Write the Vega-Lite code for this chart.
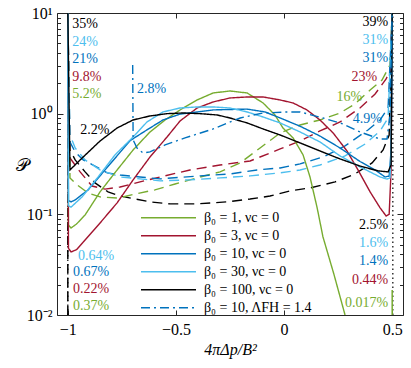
{
 "$schema": "https://vega.github.io/schema/vega-lite/v6.json",
 "width": 346, "height": 302,
 "autosize": "none",
 "padding": {"left": 57, "top": 13, "right": 8, "bottom": 53},
 "config": {
  "view": {"stroke": "#262626", "strokeWidth": 1},
  "font": "Liberation Serif",
  "axis": {"domain": false, "grid": false, "tickColor": "#262626", "labelColor": "#000", "titleColor": "#000", "labelFont": "Liberation Serif", "titleFont": "Liberation Serif", "titleFontWeight": "normal", "labelFlush": false}
 },
 "datasets": {
  "solid": [
   {"s":"b1","x":-1.0,"y":10},{"s":"b1","x":-0.997,"y":0.078},{"s":"b1","x":-0.985,"y":0.0732},{"s":"b1","x":-0.96,"y":0.08},{"s":"b1","x":-0.92,"y":0.0986},{"s":"b1","x":-0.851,"y":0.167},{"s":"b1","x":-0.772,"y":0.276},{"s":"b1","x":-0.698,"y":0.436},{"s":"b1","x":-0.62,"y":0.658},{"s":"b1","x":-0.55,"y":0.866},{"s":"b1","x":-0.481,"y":1.088},{"s":"b1","x":-0.402,"y":1.368},{"s":"b1","x":-0.328,"y":1.606},{"s":"b1","x":-0.25,"y":1.68},{"s":"b1","x":-0.171,"y":1.606},{"s":"b1","x":-0.097,"y":1.277},{"s":"b1","x":-0.042,"y":0.971},{"s":"b1","x":-0.005,"y":0.72},{"s":"b1","x":0.042,"y":0.574},{"s":"b1","x":0.088,"y":0.389},{"s":"b1","x":0.12,"y":0.235},{"s":"b1","x":0.153,"y":0.116},{"s":"b1","x":0.18,"y":0.0596},{"s":"b1","x":0.231,"y":0.0252},{"s":"b1","x":0.282,"y":0.01},
   {"s":"b3","x":-1.0,"y":10},{"s":"b3","x":-0.997,"y":0.046},{"s":"b3","x":-0.985,"y":0.0423},{"s":"b3","x":-0.96,"y":0.0445},{"s":"b3","x":-0.929,"y":0.053},{"s":"b3","x":-0.851,"y":0.082},{"s":"b3","x":-0.772,"y":0.13},{"s":"b3","x":-0.698,"y":0.22},{"s":"b3","x":-0.62,"y":0.371},{"s":"b3","x":-0.541,"y":0.587},{"s":"b3","x":-0.481,"y":0.846},{"s":"b3","x":-0.402,"y":1.139},{"s":"b3","x":-0.328,"y":1.307},{"s":"b3","x":-0.25,"y":1.432},{"s":"b3","x":-0.171,"y":1.465},{"s":"b3","x":-0.097,"y":1.465},{"s":"b3","x":-0.018,"y":1.368},{"s":"b3","x":0.042,"y":1.277},{"s":"b3","x":0.106,"y":1.088},{"s":"b3","x":0.166,"y":0.866},{"s":"b3","x":0.227,"y":0.643},{"s":"b3","x":0.291,"y":0.426},{"s":"b3","x":0.342,"y":0.276},{"s":"b3","x":0.398,"y":0.167},{"s":"b3","x":0.444,"y":0.116},{"s":"b3","x":0.472,"y":0.0963},{"s":"b3","x":0.486,"y":0.1},{"s":"b3","x":0.495,"y":0.276},{"s":"b3","x":0.5,"y":10},
   {"s":"b10","x":-1.0,"y":10},{"s":"b10","x":-0.997,"y":0.137},{"s":"b10","x":-0.985,"y":0.133},{"s":"b10","x":-0.966,"y":0.139},{"s":"b10","x":-0.906,"y":0.175},{"s":"b10","x":-0.828,"y":0.276},{"s":"b10","x":-0.749,"y":0.436},{"s":"b10","x":-0.712,"y":0.54},{"s":"b10","x":-0.634,"y":0.69},{"s":"b10","x":-0.56,"y":0.866},{"s":"b10","x":-0.481,"y":0.99},{"s":"b10","x":-0.328,"y":1.09},{"s":"b10","x":-0.171,"y":1.11},{"s":"b10","x":-0.088,"y":1.04},{"s":"b10","x":-0.018,"y":0.906},{"s":"b10","x":0.074,"y":0.75},{"s":"b10","x":0.166,"y":0.6},{"s":"b10","x":0.259,"y":0.456},{"s":"b10","x":0.351,"y":0.335},{"s":"b10","x":0.421,"y":0.276},{"s":"b10","x":0.467,"y":0.235},{"s":"b10","x":0.486,"y":0.24},{"s":"b10","x":0.495,"y":0.436},{"s":"b10","x":0.5,"y":10},
   {"s":"b30","x":-1.0,"y":10},{"s":"b30","x":-0.997,"y":0.122},{"s":"b30","x":-0.985,"y":0.118},{"s":"b30","x":-0.934,"y":0.149},{"s":"b30","x":-0.86,"y":0.235},{"s":"b30","x":-0.782,"y":0.389},{"s":"b30","x":-0.698,"y":0.587},{"s":"b30","x":-0.634,"y":0.827},{"s":"b30","x":-0.56,"y":1.04},{"s":"b30","x":-0.481,"y":1.139},{"s":"b30","x":-0.402,"y":1.166},{"s":"b30","x":-0.328,"y":1.166},{"s":"b30","x":-0.25,"y":1.139},{"s":"b30","x":-0.171,"y":1.04},{"s":"b30","x":-0.097,"y":0.927},{"s":"b30","x":-0.018,"y":0.809},{"s":"b30","x":0.074,"y":0.658},{"s":"b30","x":0.166,"y":0.524},{"s":"b30","x":0.259,"y":0.38},{"s":"b30","x":0.351,"y":0.296},{"s":"b30","x":0.444,"y":0.235},{"s":"b30","x":0.476,"y":0.224},{"s":"b30","x":0.49,"y":0.23},{"s":"b30","x":0.495,"y":0.436},{"s":"b30","x":0.5,"y":10},
   {"s":"b100","x":-1.0,"y":10},{"s":"b100","x":-0.99,"y":0.276},{"s":"b100","x":-0.929,"y":0.371},{"s":"b100","x":-0.851,"y":0.535},{"s":"b100","x":-0.772,"y":0.721},{"s":"b100","x":-0.698,"y":0.866},{"s":"b100","x":-0.62,"y":0.949},{"s":"b100","x":-0.541,"y":1.0},{"s":"b100","x":-0.467,"y":1.016},{"s":"b100","x":-0.388,"y":1.0},{"s":"b100","x":-0.31,"y":0.971},{"s":"b100","x":-0.25,"y":0.906},{"s":"b100","x":-0.171,"y":0.809},{"s":"b100","x":-0.097,"y":0.705},{"s":"b100","x":-0.018,"y":0.614},{"s":"b100","x":0.074,"y":0.512},{"s":"b100","x":0.166,"y":0.426},{"s":"b100","x":0.259,"y":0.355},{"s":"b100","x":0.351,"y":0.302},{"s":"b100","x":0.435,"y":0.27},{"s":"b100","x":0.481,"y":0.264},{"s":"b100","x":0.495,"y":0.309},{"s":"b100","x":0.5,"y":10},
   {"s":"fh","x":-0.7,"y":3.05},{"s":"fh","x":-0.698,"y":0.548},{"s":"fh","x":-0.68,"y":0.456},{"s":"fh","x":-0.652,"y":0.407},{"s":"fh","x":-0.62,"y":0.417},{"s":"fh","x":-0.55,"y":0.489},{"s":"fh","x":-0.458,"y":0.574},{"s":"fh","x":-0.328,"y":0.705},{"s":"fh","x":-0.203,"y":0.906},{"s":"fh","x":-0.097,"y":1.016},{"s":"fh","x":0.014,"y":1.04},{"s":"fh","x":0.074,"y":1.04},{"s":"fh","x":0.18,"y":0.906},{"s":"fh","x":0.273,"y":0.79},{"s":"fh","x":0.351,"y":0.658},{"s":"fh","x":0.444,"y":0.56},{"s":"fh","x":0.476,"y":0.56},{"s":"fh","x":0.49,"y":0.971},{"s":"fh","x":0.5,"y":10}
  ],
  "dashed": [
   {"s":"b100","x":-1.0,"y":10},{"s":"b100","x":-0.99,"y":0.436},{"s":"b100","x":-0.966,"y":0.347},{"s":"b100","x":-0.92,"y":0.264},{"s":"b100","x":-0.874,"y":0.205},{"s":"b100","x":-0.814,"y":0.167},{"s":"b100","x":-0.758,"y":0.152},{"s":"b100","x":-0.689,"y":0.142},{"s":"b100","x":-0.62,"y":0.133},{"s":"b100","x":-0.527,"y":0.127},{"s":"b100","x":-0.402,"y":0.127},{"s":"b100","x":-0.264,"y":0.133},{"s":"b100","x":-0.157,"y":0.142},{"s":"b100","x":-0.065,"y":0.152},{"s":"b100","x":0.028,"y":0.171},{"s":"b100","x":0.12,"y":0.183},{"s":"b100","x":0.236,"y":0.21},{"s":"b100","x":0.328,"y":0.252},{"s":"b100","x":0.407,"y":0.324},{"s":"b100","x":0.458,"y":0.436},{"s":"b100","x":0.486,"y":0.614},{"s":"b100","x":0.5,"y":10},
   {"s":"b3","x":-1.0,"y":10},{"s":"b3","x":-0.99,"y":0.363},{"s":"b3","x":-0.943,"y":0.264},{"s":"b3","x":-0.888,"y":0.191},{"s":"b3","x":-0.828,"y":0.178},{"s":"b3","x":-0.758,"y":0.187},{"s":"b3","x":-0.666,"y":0.21},{"s":"b3","x":-0.573,"y":0.235},{"s":"b3","x":-0.435,"y":0.276},{"s":"b3","x":-0.296,"y":0.309},{"s":"b3","x":-0.157,"y":0.339},{"s":"b3","x":-0.018,"y":0.446},{"s":"b3","x":0.074,"y":0.535},{"s":"b3","x":0.166,"y":0.673},{"s":"b3","x":0.259,"y":0.827},{"s":"b3","x":0.351,"y":1.139},{"s":"b3","x":0.421,"y":1.57},{"s":"b3","x":0.472,"y":2.21},{"s":"b3","x":0.49,"y":2.71},{"s":"b3","x":0.5,"y":10},
   {"s":"b1","x":-1.0,"y":10},{"s":"b1","x":-0.99,"y":0.23},{"s":"b1","x":-0.957,"y":0.196},{"s":"b1","x":-0.906,"y":0.163},{"s":"b1","x":-0.851,"y":0.149},{"s":"b1","x":-0.768,"y":0.145},{"s":"b1","x":-0.689,"y":0.159},{"s":"b1","x":-0.597,"y":0.175},{"s":"b1","x":-0.504,"y":0.2},{"s":"b1","x":-0.388,"y":0.235},{"s":"b1","x":-0.296,"y":0.264},{"s":"b1","x":-0.203,"y":0.324},{"s":"b1","x":-0.111,"y":0.456},{"s":"b1","x":-0.018,"y":0.643},{"s":"b1","x":0.074,"y":0.772},{"s":"b1","x":0.166,"y":0.866},{"s":"b1","x":0.259,"y":1.016},{"s":"b1","x":0.328,"y":1.25},{"s":"b1","x":0.398,"y":1.72},{"s":"b1","x":0.453,"y":2.16},{"s":"b1","x":0.49,"y":3.05},{"s":"b1","x":0.5,"y":10},
   {"s":"b10","x":-1.0,"y":10},{"s":"b10","x":-0.995,"y":0.548},{"s":"b10","x":-0.966,"y":0.417},{"s":"b10","x":-0.929,"y":0.347},{"s":"b10","x":-0.883,"y":0.309},{"s":"b10","x":-0.818,"y":0.258},{"s":"b10","x":-0.758,"y":0.246},{"s":"b10","x":-0.666,"y":0.235},{"s":"b10","x":-0.573,"y":0.225},{"s":"b10","x":-0.388,"y":0.241},{"s":"b10","x":-0.25,"y":0.252},{"s":"b10","x":-0.125,"y":0.276},{"s":"b10","x":-0.018,"y":0.289},{"s":"b10","x":0.074,"y":0.317},{"s":"b10","x":0.18,"y":0.371},{"s":"b10","x":0.282,"y":0.478},{"s":"b10","x":0.388,"y":0.689},{"s":"b10","x":0.444,"y":0.866},{"s":"b10","x":0.481,"y":1.139},{"s":"b10","x":0.5,"y":10},
   {"s":"b30","x":-1.0,"y":10},{"s":"b30","x":-0.99,"y":0.614},{"s":"b30","x":-0.966,"y":0.456},{"s":"b30","x":-0.92,"y":0.347},{"s":"b30","x":-0.851,"y":0.276},{"s":"b30","x":-0.758,"y":0.235},{"s":"b30","x":-0.666,"y":0.225},{"s":"b30","x":-0.573,"y":0.215},{"s":"b30","x":-0.435,"y":0.22},{"s":"b30","x":-0.296,"y":0.23},{"s":"b30","x":-0.157,"y":0.241},{"s":"b30","x":-0.018,"y":0.258},{"s":"b30","x":0.074,"y":0.276},{"s":"b30","x":0.166,"y":0.309},{"s":"b30","x":0.282,"y":0.38},{"s":"b30","x":0.375,"y":0.5},{"s":"b30","x":0.444,"y":0.673},{"s":"b30","x":0.481,"y":0.906},{"s":"b30","x":0.5,"y":10}
  ],
  "labL": [
   {"t":"35%","s":"b100","x":-0.98,"y":7.78},{"t":"24%","s":"b30","x":-0.98,"y":5.15},{"t":"21%","s":"b10","x":-0.98,"y":3.49},{"t":"9.8%","s":"b3","x":-0.98,"y":2.31},{"t":"5.2%","s":"b1","x":-0.98,"y":1.57},
   {"t":"2.2%","s":"b100","x":-0.943,"y":0.689},{"t":"2.8%","s":"fh","x":-0.68,"y":1.76},
   {"t":"0.64%","s":"b30","x":-0.953,"y":0.0386},{"t":"0.67%","s":"b10","x":-0.976,"y":0.0267},{"t":"0.22%","s":"b3","x":-0.976,"y":0.0181},{"t":"0.37%","s":"b1","x":-0.976,"y":0.0123}
  ],
  "labR": [
   {"t":"39%","s":"b100","x":0.481,"y":8.15},{"t":"31%","s":"b30","x":0.481,"y":5.4},{"t":"31%","s":"b10","x":0.481,"y":3.57},{"t":"23%","s":"b3","x":0.43,"y":2.31},{"t":"16%","s":"b1","x":0.361,"y":1.465},{"t":"4.9%","s":"fh","x":0.453,"y":0.886},
   {"t":"2.5%","s":"b100","x":0.481,"y":0.0784},{"t":"1.6%","s":"b30","x":0.481,"y":0.052},{"t":"1.4%","s":"b10","x":0.481,"y":0.0344},{"t":"0.44%","s":"b3","x":0.481,"y":0.0223},{"t":"0.017%","s":"b1","x":0.481,"y":0.0132}
  ]
 },
 "encoding": {
  "x": {"field": "x", "type": "quantitative", "scale": {"domain": [-1.05, 0.55], "nice": false, "zero": false}, "axis": null},
  "y": {"field": "y", "type": "quantitative", "scale": {"type": "log", "domain": [0.01, 10], "nice": false}, "axis": null}
 },
 "resolve": {"axis": {"x": "independent", "y": "independent"}},
 "layer": [
  {
   "data": {"name": "dashed"},
   "mark": {"type": "line", "strokeDash": [10, 6], "strokeWidth": 1.4, "clip": true},
   "encoding": {
    "x": {"field": "x", "type": "quantitative", "scale": {"domain": [-1.05, 0.55], "nice": false, "zero": false},
      "axis": {"orient": "bottom", "values": [-1, -0.5, 0, 0.5], "format": "~f", "tickSize": -5, "labelFontSize": 16, "labelPadding": 11, "title": "4πΔp/B²", "titleFontSize": 16, "titleFontStyle": "italic", "titlePadding": 4}},
    "y": {"field": "y", "type": "quantitative", "scale": {"type": "log", "domain": [0.01, 10], "nice": false},
      "axis": {"orient": "left", "values": [0.01,0.02,0.03,0.04,0.05,0.06,0.07,0.08,0.09,0.1,0.2,0.3,0.4,0.5,0.6,0.7,0.8,0.9,1,2,3,4,5,6,7,8,9,10],
        "labelExpr": "datum.value == 10 ? '10¹' : datum.value == 1 ? '10⁰' : datum.value == 0.1 ? '10⁻¹' : datum.value == 0.01 ? '10⁻²' : ''",
        "tickSize": {"condition": {"test": "datum.value == 10 || datum.value == 1 || datum.value == 0.1 || datum.value == 0.01", "value": -6}, "value": -3.5},
        "labelFontSize": 16, "labelPadding": 11, "labelOverlap": false,
        "title": "𝒫", "titleAngle": 0, "titleFontSize": 18, "titleX": -35, "titleY": 152, "titleAlign": "center", "titleBaseline": "middle"}},
    "stroke": {"field": "s", "type": "nominal", "scale": {"domain": ["b1","b3","b10","b30","b100"], "range": ["#77AC30","#A2142F","#0072BD","#4DBEEE","#000000"]}, "legend": null}
   }
  },
  {
   "data": {"values": [{"x": -1, "y": 0.01, "y2": 10}]},
   "mark": {"type": "rule", "color": "#000000", "strokeDash": [9, 5], "strokeWidth": 1.5},
   "encoding": {
    "x": {"field": "x", "type": "quantitative", "scale": {"domain": [-1.05, 0.55], "nice": false, "zero": false},
      "axis": {"orient": "top", "values": [-1, -0.5, 0, 0.5], "labels": false, "tickSize": -5, "title": null}},
    "y": {"field": "y", "type": "quantitative", "scale": {"type": "log", "domain": [0.01, 10], "nice": false},
      "axis": {"orient": "right", "values": [0.01,0.02,0.03,0.04,0.05,0.06,0.07,0.08,0.09,0.1,0.2,0.3,0.4,0.5,0.6,0.7,0.8,0.9,1,2,3,4,5,6,7,8,9,10], "labels": false, "title": null,
        "tickSize": {"condition": {"test": "datum.value == 10 || datum.value == 1 || datum.value == 0.1 || datum.value == 0.01", "value": -6}, "value": -3.5}}},
    "y2": {"field": "y2"}
   }
  },
  {
   "data": {"values": [{"x": -1, "y": 0.01, "y2": 10}, {"x": 0.503, "y": 0.01, "y2": 10}]},
   "mark": {"type": "rule", "color": "#000000", "strokeDash": [1.5, 3], "strokeWidth": 1.2},
   "encoding": {"y2": {"field": "y2"}}
  },
  {
   "data": {"values": [{"x": 0.5, "y": 0.01, "y2": 0.0177}]},
   "mark": {"type": "rule", "color": "#77AC30", "strokeWidth": 1.5},
   "encoding": {"y2": {"field": "y2"}}
  },
  {
   "data": {"name": "solid"},
   "mark": {"type": "line", "strokeWidth": 1.4, "clip": true},
   "encoding": {
    "color": {"field": "s", "type": "nominal",
      "scale": {"domain": ["b1","b3","b10","b30","b100","fh"], "range": ["#77AC30","#A2142F","#0072BD","#4DBEEE","#000000","#0072BD"]},
      "legend": {"orient": "none", "legendX": 83, "legendY": 196, "title": null, "symbolType": "stroke", "symbolSize": 3025, "symbolStrokeWidth": 1.5, "labelFont": "Liberation Serif", "labelFontSize": 14, "labelOffset": 7, "clipHeight": 17.6, "rowPadding": 0, "labelColor": "#000",
        "labelExpr": "datum.label == 'b1' ? 'β₀ = 1, νc = 0' : datum.label == 'b3' ? 'β₀ = 3, νc = 0' : datum.label == 'b10' ? 'β₀ = 10, νc = 0' : datum.label == 'b30' ? 'β₀ = 30, νc = 0' : datum.label == 'b100' ? 'β₀ = 100, νc = 0' : 'β₀ = 10, ΛFH = 1.4'"}},
    "strokeDash": {"field": "s", "type": "nominal",
      "scale": {"domain": ["b1","b3","b10","b30","b100","fh"], "range": [[1,0],[1,0],[1,0],[1,0],[1,0],[9,4,2,4]]},
      "legend": {"orient": "none", "legendX": 83, "legendY": 196, "title": null, "symbolType": "stroke", "symbolSize": 3025, "symbolStrokeWidth": 1.5, "labelFont": "Liberation Serif", "labelFontSize": 14, "labelOffset": 7, "clipHeight": 17.6, "rowPadding": 0, "labelColor": "#000",
        "labelExpr": "datum.label == 'b1' ? 'β₀ = 1, νc = 0' : datum.label == 'b3' ? 'β₀ = 3, νc = 0' : datum.label == 'b10' ? 'β₀ = 10, νc = 0' : datum.label == 'b30' ? 'β₀ = 30, νc = 0' : datum.label == 'b100' ? 'β₀ = 100, νc = 0' : 'β₀ = 10, ΛFH = 1.4'"}}
   }
  },
  {
   "data": {"name": "labL"},
   "mark": {"type": "text", "align": "left", "baseline": "middle", "fontSize": 14, "font": "Liberation Serif"},
   "encoding": {
    "text": {"field": "t"},
    "fill": {"field": "s", "type": "nominal", "scale": {"domain": ["b1","b3","b10","b30","b100","fh"], "range": ["#77AC30","#A2142F","#0072BD","#4DBEEE","#000000","#0072BD"]}, "legend": null}
   }
  },
  {
   "data": {"name": "labR"},
   "mark": {"type": "text", "align": "right", "baseline": "middle", "fontSize": 14, "font": "Liberation Serif"},
   "encoding": {
    "text": {"field": "t"},
    "fill": {"field": "s", "type": "nominal", "scale": {"domain": ["b1","b3","b10","b30","b100","fh"], "range": ["#77AC30","#A2142F","#0072BD","#4DBEEE","#000000","#0072BD"]}, "legend": null}
   }
  }
 ]
}
